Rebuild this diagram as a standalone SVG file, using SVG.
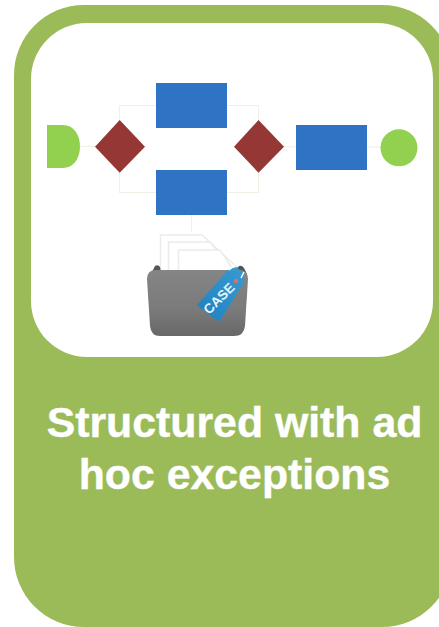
<svg xmlns="http://www.w3.org/2000/svg" width="439" height="627" viewBox="0 0 439 627">
  <defs>
    <linearGradient id="fold" x1="0" y1="0" x2="0" y2="1">
      <stop offset="0" stop-color="#858585"/>
      <stop offset="0.6" stop-color="#7a7a7a"/>
      <stop offset="1" stop-color="#686868"/>
    </linearGradient>
    <linearGradient id="tag" x1="0" y1="1" x2="1" y2="0">
      <stop offset="0" stop-color="#1c80bf"/>
      <stop offset="1" stop-color="#3a9bd2"/>
    </linearGradient>
    <filter id="soft" x="-10%" y="-10%" width="120%" height="120%"><feGaussianBlur stdDeviation="0.6"/></filter>
  </defs>
  <style>
    .task{fill:#2e73c4}
    .gw{fill:#953735}
    .ev{fill:#92d050}
    .ln{fill:none;stroke:#f2f0e6;stroke-width:1.2}
    .pg{fill:#fff;stroke:#ebebeb;stroke-width:1.5}
    text{font-family:"Liberation Sans",Arial,sans-serif}
  </style>
  <rect width="439" height="627" fill="#fff"/>
  <g id="card">
    <rect x="14" y="5" width="438" height="622" rx="70" ry="70" fill="#9bbb59"/>
    <rect x="31" y="23" width="402" height="334" rx="56" ry="56" fill="#fff"/>
  </g>
  <g id="connectors">
    <path class="ln" d="M80 146.500H96"/>
    <path class="ln" d="M119.500 122V105.500H157"/>
    <path class="ln" d="M119.500 171V192.500H157"/>
    <path class="ln" d="M226 105.500H258.500V122"/>
    <path class="ln" d="M226 192.500H258.500V171"/>
    <path class="ln" d="M283 146.500L297 147"/>
    <path class="ln" d="M366 147H382"/>
    <path class="ln" d="M191.500 215V232"/>
  </g>
  <g id="start"><path class="ev" d="M47 125H63C73 125 80 134 80 146.500C80 159 73 168 63 168H47Z"/></g>
  <g id="gateway1"><polygon class="gw" points="95,146.700 119.700,120 145,146.700 119.700,172.700"/></g>
  <g id="taskTop"><rect class="task" x="156" y="83" width="71" height="45"/></g>
  <g id="taskBottom"><rect class="task" x="156" y="170" width="71" height="45"/></g>
  <g id="gateway2"><polygon class="gw" points="234,146.700 258.500,120 284,146.700 258.500,172.700"/></g>
  <g id="taskEnd"><rect class="task" x="296" y="125" width="71" height="45"/></g>
  <g id="end"><circle class="ev" cx="399" cy="147.800" r="18.500"/></g>
  <g id="caseFolder">
    <g filter="url(#soft)">
      <path class="pg" d="M160.500 235H202L238 268V280H160.500Z"/>
      <path class="pg" d="M168.500 242H210L232 268V280H168.500Z"/>
      <path class="pg" d="M178.500 250H220L232 268V280H178.500Z"/>
      <path d="M152 272L155 266Q158 264 160 267L161 272H233L238 267Q241 264 244 268L247 274Z" fill="#555"/>
      <path d="M147 279Q147 270 156 270H239Q248 270 248 279L245 326Q244 336 234 336H160Q151 336 150 326Z" fill="url(#fold)"/>
    </g>
    <path d="M197 305L228 270L236 267L244 273L243 284L219 322Z" fill="url(#tag)"/>
    <circle cx="236" cy="281" r="2.300" fill="#c9777a"/>
    <path d="M229 270L236 264M241 278L244 272" stroke="#fff" stroke-width="1.500" fill="none"/>
    <text transform="translate(209 315) rotate(-45)" font-size="13.500" font-weight="700" fill="#e6f4fb">CASE</text>
  </g>
  <g id="caption" fill="#fff" stroke="#fff" stroke-width="0.4" font-size="42.800" font-weight="700" text-anchor="middle">
    <text x="234.500" y="437">Structured with ad</text>
    <text x="234.500" y="489">hoc exceptions</text>
  </g>
</svg>
